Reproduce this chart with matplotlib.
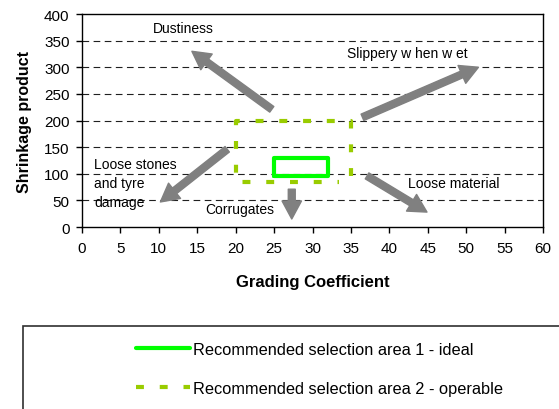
import matplotlib
matplotlib.use('Agg')
import matplotlib.pyplot as plt
from matplotlib.patches import Rectangle

plt.rcParams['font.family'] = ['Liberation Sans', 'DejaVu Sans']

# recommended areas (grading coefficient, shrinkage product)
ideal_gc = [25, 32, 32, 25, 25]
ideal_sp = [95, 95, 130, 130, 95]
operable_gc = [35, 35, 20, 20, 33.5]
operable_sp = [95, 200, 200, 85, 85]

# problem zones: label, text position, arrow tail, arrow tip
zone_labels = ['Dustiness', 'Slippery w hen w et', 'Loose stones\nand tyre\ndamage',
               'Corrugates', 'Loose material']
label_x = [9.2, 34.5, 1.6, 16.1, 42.4]
label_y = [374, 327, 82, 34, 83]
tail_x = [24.7, 36.5, 18.9, 27.3, 37.1]
tail_y = [221, 206, 146, 71, 96]
tip_x = [14.3, 51.6, 10.2, 27.3, 44.9]
tip_y = [330, 300, 47, 15, 28]

xticks = list(range(0, 61, 5))
yticks = list(range(0, 401, 50))

fig = plt.figure(figsize=(5.59, 4.10), dpi=100)
ax = fig.add_axes([0.1467, 0.4439, 0.8247, 0.5195])

ax.set_xlim(0, 60)
ax.set_ylim(0, 400)
ax.set_xticks(xticks)
ax.set_yticks(yticks)
ax.tick_params(direction='out', length=4, width=1, labelsize=11)
ax.tick_params(axis='x', pad=6)
ax.tick_params(axis='y', pad=5)
for s in ax.spines.values():
    s.set_linewidth(1)
ax.set_axisbelow(True)
for v in yticks[1:-1]:
    ax.axhline(v, color='#202020', lw=0.8, ls=(0, (6, 4)), zorder=0)

ideal, = ax.plot(ideal_gc, ideal_sp, color='#00ff00', lw=3,
                 solid_joinstyle='round', solid_capstyle='round',
                 label='Recommended selection area 1 - ideal')
operable, = ax.plot(operable_gc, operable_sp, color='#99cc00', lw=3,
                    ls=(0, (1.9, 3.8)), label='Recommended selection area 2 - operable')

for i in range(len(zone_labels)):
    ax.annotate('', xy=(tip_x[i], tip_y[i]), xytext=(tail_x[i], tail_y[i]),
                arrowprops=dict(arrowstyle='simple,head_width=1.4,head_length=1.3,tail_width=0.5',
                                mutation_scale=10, color='#808080', shrinkA=0, shrinkB=0))
    ax.text(label_x[i], label_y[i], zone_labels[i], fontsize=10, ha='left', va='center',
            linespacing=1.45)

ax.set_xlabel('Grading Coefficient', fontsize=12, fontweight='bold', labelpad=14)
ax.set_ylabel('Shrinkage product', fontsize=11.5, fontweight='bold', labelpad=9)

fig.patches.append(Rectangle((23 / 559, -0.1), 1.0, 0.1 + (1 - 327 / 410), transform=fig.transFigure,
                             fill=False, edgecolor='#303030', lw=1.2))
fig.legend(handles=[ideal, operable], loc='upper left', bbox_to_anchor=(136 / 559, 1 - 343 / 410),
           frameon=False, fontsize=11.8, handlelength=3.3, handletextpad=0.2,
           labelspacing=1.45, borderpad=0, borderaxespad=0)

fig.savefig('out.png', dpi=100)
